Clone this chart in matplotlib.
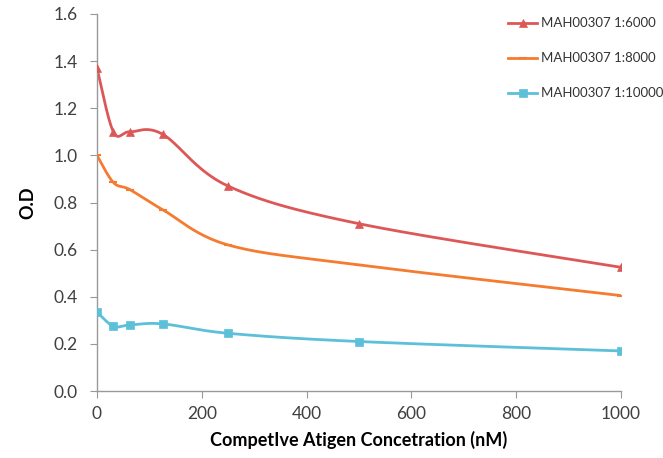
import numpy as np
import matplotlib
matplotlib.use('Agg')
import matplotlib.pyplot as plt
from matplotlib.lines import Line2D

plt.rcParams['font.family'] = ['Lato', 'DejaVu Sans']

conc = [0, 31.25, 62.5, 125, 250, 500, 1000]
od_6000 = [1.37, 1.10, 1.10, 1.09, 0.87, 0.71, 0.525]
od_8000 = [1.00, 0.885, 0.855, 0.77, 0.62, 0.535, 0.405]
od_10000 = [0.335, 0.275, 0.28, 0.285, 0.245, 0.21, 0.17]

labels = ['MAH00307 1:6000', 'MAH00307 1:8000', 'MAH00307 1:10000']
colors = ['#DE5757', '#F47B30', '#5BC0D8']
markers = ['^', '_', 's']
msizes = [6, 6, 6]


def smooth(x, y, n=40):
    # Excel style smoothed line: bezier segments with catmull-rom handles
    x = np.asarray(x, float)
    y = np.asarray(y, float)
    px, py = [], []
    for i in range(len(x) - 1):
        i0 = max(i - 1, 0)
        i3 = min(i + 2, len(x) - 1)
        c1x = x[i] + (x[i + 1] - x[i0]) / 6
        c1y = y[i] + (y[i + 1] - y[i0]) / 6
        c2x = x[i + 1] - (x[i3] - x[i]) / 6
        c2y = y[i + 1] - (y[i3] - y[i]) / 6
        t = np.linspace(0, 1, n)
        a, b, c, d = (1 - t) ** 3, 3 * (1 - t) ** 2 * t, 3 * (1 - t) * t ** 2, t ** 3
        px.extend(a * x[i] + b * c1x + c * c2x + d * x[i + 1])
        py.extend(a * y[i] + b * c1y + c * c2y + d * y[i + 1])
    return px, py


fig = plt.figure(figsize=(6.63, 4.58), dpi=100)
ax = fig.add_axes([97 / 663, 1 - 391 / 458, 524 / 663, 377 / 458])

handles = []
for ys, col, mk, ms, lab in zip([od_6000, od_8000, od_10000], colors, markers, msizes, labels):
    sx, sy = smooth(conc, ys)
    ax.plot(sx, sy, color=col, lw=2, solid_capstyle='round', zorder=2)
    ax.plot(conc, ys, ls='none', marker=mk, color=col, markersize=ms,
            markeredgewidth=1.5 if mk == '_' else 0.5, zorder=3)
    handles.append(Line2D([], [], color=col, lw=2, marker=mk, markersize=ms,
                          markeredgewidth=1.5 if mk == '_' else 0.5))

ax.set_xlim(0, 1000)
ax.set_ylim(0, 1.6)
ax.set_xticks([0, 200, 400, 600, 800, 1000])
ax.set_yticks(np.arange(0, 1.61, 0.2))
ax.set_yticklabels(['%.1f' % v for v in np.arange(0, 1.61, 0.2)])

for s in ['top', 'right']:
    ax.spines[s].set_visible(False)
for s in ['left', 'bottom']:
    ax.spines[s].set_color('#999999')
    ax.spines[s].set_linewidth(1)
ax.tick_params(direction='out', length=5, color='#999999', labelsize=12.5,
               labelcolor='#404040')
ax.tick_params(axis='y', pad=9)
ax.tick_params(axis='x', pad=6)

ax.set_xlabel('CompetIve Atigen Concetration (nM)', fontsize=13,
              fontweight='bold', labelpad=6)
ax.set_ylabel('O.D', fontsize=13, fontweight='bold', labelpad=12)

leg = fig.legend(handles, labels, loc='upper left', bbox_to_anchor=(503 / 663, 1 - 12 / 458),
                 frameon=False, fontsize=9.5, labelspacing=1.75, handlelength=2.2,
                 handletextpad=0.25, borderaxespad=0)
for t in leg.get_texts():
    t.set_color('#333333')

fig.savefig('out.png', dpi=100)
